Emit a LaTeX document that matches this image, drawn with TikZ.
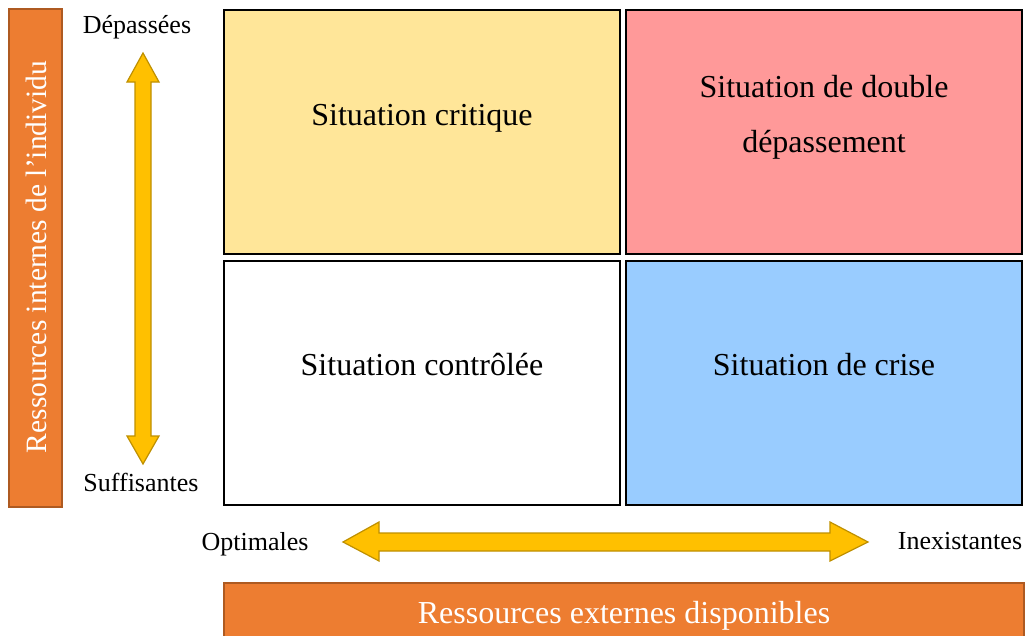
\documentclass[tikz,border=0pt]{standalone}
\usepackage{fontspec}
\setmainfont{Liberation Serif}
\definecolor{orangebar}{HTML}{ED7D31}
\definecolor{orangeedge}{HTML}{AE5A21}
\definecolor{arrowfill}{HTML}{FFC000}
\definecolor{arrowedge}{HTML}{BF9000}
\definecolor{cyellow}{HTML}{FFE699}
\definecolor{cred}{HTML}{FF9999}
\definecolor{cblue}{HTML}{99CCFF}
\tikzset{
  quad/.style={draw=black, line width=2.6pt, inner sep=0pt, minimum width=396pt, minimum height=244pt, rectangle},
  bar/.style={fill=orangebar, draw=orangeedge, line width=1.2pt},
  big/.style={font=\fontsize{32}{38}\selectfont, align=center, inner sep=0pt},
  small/.style={font=\fontsize{26}{30}\selectfont, inner sep=0pt},
  fatarrow/.style={fill=arrowfill, draw=arrowedge, line width=1.2pt, line join=miter},
}
\begin{document}
\begin{tikzpicture}[x=1pt,y=-1pt]
\useasboundingbox (0,0) rectangle (1027,635);
% orange bars
\draw[bar] (9,9) rectangle (62,507);
\node[big, font=\fontsize{29.5}{35}\selectfont, text=white, rotate=90] (yaxis) at (36,257) {Ressources internes de l'individu};
\draw[bar] (224,583) rectangle (1024,645);
\node[big, text=white, anchor=base] (xaxis) at (624,623) {Ressources externes disponibles};
% quadrants
\node[quad, fill=cyellow] (q1) at (422,132) {};
\node[quad, fill=cred] (q2) at (824,132) {};
\node[quad, fill=white] (q3) at (422,383) {};
\node[quad, fill=cblue] (q4) at (824,383) {};
\node[big, anchor=base] (t1) at (422,125) {Situation critique};
\node[big, anchor=base] (t2a) at (824,97) {Situation de double};
\node[big, anchor=base] (t2b) at (824,152) {dépassement};
\node[big, anchor=base] (t3) at (422,375) {Situation contrôlée};
\node[big, anchor=base] (t4) at (824,375) {Situation de crise};
% vertical arrow
\draw[fatarrow] (143,53) -- (159,82) -- (151,82) -- (151,436) -- (159,436) -- (143,464)
  -- (127,436) -- (135,436) -- (135,82) -- (127,82) -- cycle;
\node[small, anchor=base] (dep) at (137,33) {Dépassées};
\node[small, anchor=base] (suf) at (141,491) {Suffisantes};
% horizontal arrow
\draw[fatarrow] (343,542) -- (379,522) -- (379,533) -- (830,533) -- (830,522) -- (868,542)
  -- (830,561) -- (830,551) -- (379,551) -- (379,561) -- cycle;
\node[small, anchor=base] (opt) at (255,550) {Optimales};
\node[small, anchor=base] (inex) at (960,549) {Inexistantes};
\end{tikzpicture}
\end{document}
